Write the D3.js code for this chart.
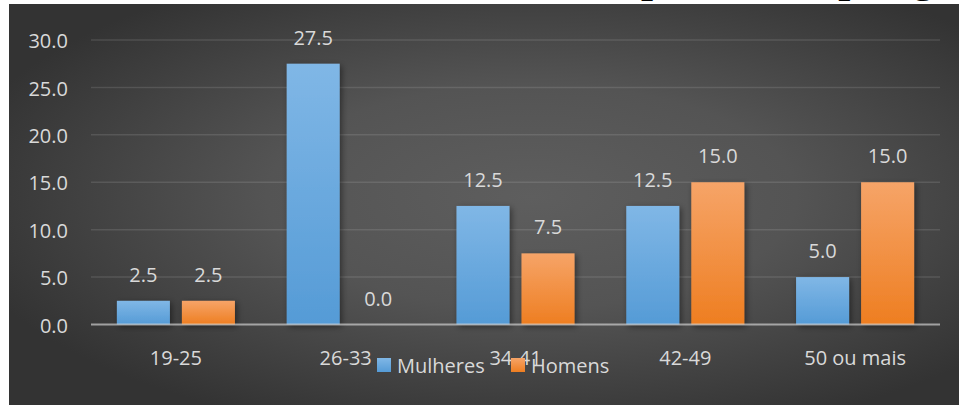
<!DOCTYPE html>
<html>
<head>
<meta charset="utf-8">
<script src="https://cdn.jsdelivr.net/npm/d3@7"></script>
<style>
  html, body { margin: 0; padding: 0; background: #fff; overflow: hidden; }
  svg { display: block; }
  text { font-family: "Open Sans", "Noto Sans", sans-serif; }
</style>
</head>
<body>
<svg id="chart" width="959" height="405"></svg>
<script>
// ---- data ----
const categories = ["19-25", "26-33", "34-41", "42-49", "50 ou mais"];
const seriesNames = ["Mulheres", "Homens"];
const mulheres = [2.5, 27.5, 12.5, 12.5, 5.0];
const homens = [2.5, 0.0, 7.5, 15.0, 15.0];
const yTicks = [0, 5, 10, 15, 20, 25, 30];
const yTickLabels = ["0.0", "5.0", "10.0", "15.0", "20.0", "25.0", "30.0"];
const titleText = "Faixa etária dos respondentes por gênero";

const values = [mulheres, homens];
const rows = categories.map((c, i) => ({ cat: c, vals: seriesNames.map((s, j) => ({ s, j, v: values[j][i] })) }));

// ---- layout ----
const W = 959, H = 405;
const panel = { x: 9, y: 4 };
const plot = { left: 91, right: 940, top: 40, bottom: 324.5 };

const svg = d3.select("#chart");
const defs = svg.append("defs");

const bg = defs.append("radialGradient").attr("id", "bgGrad")
  .attr("cx", "55%").attr("cy", "48%").attr("r", "62%");
bg.append("stop").attr("offset", "0%").attr("stop-color", "#5e5e5e");
bg.append("stop").attr("offset", "45%").attr("stop-color", "#545454");
bg.append("stop").attr("offset", "100%").attr("stop-color", "#333333");

const fills = [["#80b7e6", "#559bd6"], ["#f6a468", "#ee7e21"]];
fills.forEach((f, j) => {
  const g = defs.append("linearGradient").attr("id", "barGrad" + j)
    .attr("x1", 0).attr("y1", 0).attr("x2", 0).attr("y2", 1);
  g.append("stop").attr("offset", "0%").attr("stop-color", f[0]);
  g.append("stop").attr("offset", "100%").attr("stop-color", f[1]);
});

const shadow = defs.append("filter").attr("id", "barShadow")
  .attr("x", "-20%").attr("y", "-20%").attr("width", "150%").attr("height", "150%");
shadow.append("feDropShadow").attr("dx", 2).attr("dy", 2)
  .attr("stdDeviation", 3).attr("flood-color", "#000").attr("flood-opacity", 0.45);

// title (sits above the chart panel, mostly hidden by it)
const title = svg.append("text")
  .attr("y", -8)
  .style("font-family", "'Liberation Serif', 'DejaVu Serif', serif")
  .style("font-weight", "bold")
  .style("font-size", "43px")
  .attr("fill", "#000")
  .text(titleText);
{
  const idx = titleText.indexOf("respondentes") + 3;
  const px = title.node().getStartPositionOfChar(idx).x;
  title.attr("x", 641 - px);
}

// chart panel
svg.append("rect").attr("x", panel.x).attr("y", panel.y)
  .attr("width", W - panel.x).attr("height", H - panel.y)
  .attr("fill", "url(#bgGrad)");

// ---- scales ----
const x0 = d3.scaleBand().domain(categories).range([plot.left, plot.right]).padding(0);
const x1 = d3.scaleBand().domain(seriesNames).range([0, x0.bandwidth()])
  .paddingInner(0.1846).paddingOuter(0.398);
const y = d3.scaleLinear().domain([0, 30]).range([plot.bottom, plot.top]);

// gridlines
svg.append("g").selectAll("line").data(yTicks.filter(t => t > 0)).join("line")
  .attr("x1", plot.left).attr("x2", plot.right)
  .attr("y1", d => y(d)).attr("y2", d => y(d))
  .attr("stroke", "#d9d9d9").attr("stroke-opacity", 0.14).attr("stroke-width", 1.5);

// y axis labels
const yAxis = d3.axisLeft(y).tickValues(yTicks)
  .tickFormat((d, i) => yTickLabels[i]).tickSize(0).tickPadding(0);
const ya = svg.append("g").attr("transform", "translate(68,0)").call(yAxis);
ya.select(".domain").remove();
ya.selectAll("text")
  .attr("fill", "#d9d9d9").style("font-size", "20px")
  .style("font-family", "'Open Sans', sans-serif").attr("dy", "0.38em");

// bars
const groups = svg.append("g").selectAll("g").data(rows).join("g")
  .attr("transform", d => `translate(${x0(d.cat)},0)`);

groups.selectAll("rect").data(d => d.vals).join("rect")
  .attr("x", d => x1(d.s))
  .attr("width", x1.bandwidth())
  .attr("y", d => y(d.v))
  .attr("height", d => y(0) - y(d.v))
  .attr("fill", d => `url(#barGrad${d.j})`)
  .attr("filter", d => d.v > 0 ? "url(#barShadow)" : null);

// value labels
groups.selectAll("text.val").data(d => d.vals).join("text")
  .attr("class", "val")
  .attr("x", d => x1(d.s) + x1.bandwidth() / 2)
  .attr("y", d => y(d.v) - 19)
  .attr("text-anchor", "middle")
  .attr("fill", "#d9d9d9").style("font-size", "20px")
  .text(d => d.v.toFixed(1));

// x axis line
svg.append("line")
  .attr("x1", plot.left).attr("x2", plot.right)
  .attr("y1", y(0)).attr("y2", y(0))
  .attr("stroke", "#d9d9d9").attr("stroke-opacity", 0.65).attr("stroke-width", 2);

// category labels
const xAxis = d3.axisBottom(x0).tickSize(0).tickPadding(0);
const xa = svg.append("g").call(xAxis);
xa.select(".domain").remove();
xa.selectAll("text")
  .attr("y", 365).attr("dy", 0)
  .attr("fill", "#d9d9d9").style("font-size", "20px")
  .style("font-family", "'Open Sans', sans-serif");

// legend
const legendX = [377, 511];
const lg = svg.append("g").selectAll("g").data(seriesNames).join("g")
  .attr("transform", (d, i) => `translate(${legendX[i]},358)`);
lg.append("rect").attr("width", 14).attr("height", 14)
  .attr("fill", (d, i) => `url(#barGrad${i})`);
lg.append("text").attr("x", 20).attr("y", 15)
  .attr("fill", "#d9d9d9").style("font-size", "20px")
  .text(d => d);
</script>
</body>
</html>
